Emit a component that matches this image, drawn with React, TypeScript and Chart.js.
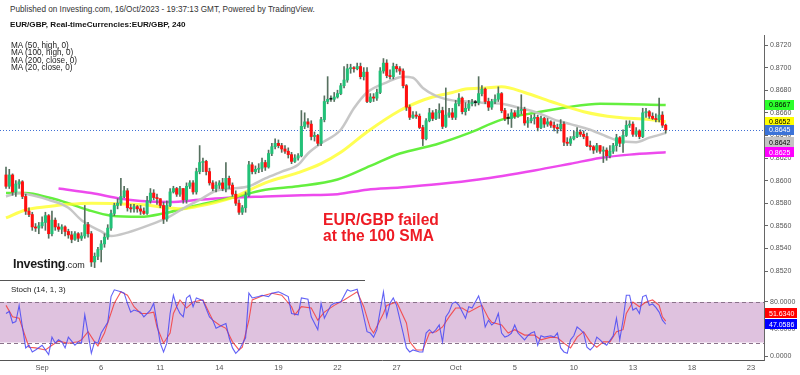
import React, { useEffect, useRef } from 'react';
import { Chart, registerables } from 'chart.js';

Chart.register(...registerables);

const FONT = '"Liberation Sans", Arial, Helvetica, sans-serif';

// ---- EUR/GBP 240-minute candles (index 0 = Aug 30 04:00 GMT) ----
const firstOpen = 0.8605;
const candleClose = [
  0.8595, 0.8605, 0.8590, 0.8597, 0.8599, 0.8586, 0.8573, 0.8570, 0.8559, 0.8558,
  0.8560, 0.8563, 0.8569, 0.8553, 0.8565, 0.8559, 0.8557, 0.8559, 0.8555, 0.8552,
  0.8548, 0.8553, 0.8549, 0.8551, 0.8561, 0.8553, 0.8528, 0.8533, 0.8539, 0.8544,
  0.8550, 0.8558, 0.8571, 0.8578, 0.8580, 0.8586, 0.8591, 0.8576, 0.8575, 0.8577,
  0.8575, 0.8573, 0.8571, 0.8582, 0.8589, 0.8585, 0.8584, 0.8578, 0.8566, 0.8578,
  0.8590, 0.8593, 0.8588, 0.8593, 0.8583, 0.8595, 0.8598, 0.8590, 0.8608, 0.8616,
  0.8617, 0.8608, 0.8598, 0.8593, 0.8596, 0.8598, 0.8593, 0.8602, 0.8596, 0.8588,
  0.8580, 0.8572, 0.8576, 0.8587, 0.8614, 0.8608, 0.8610, 0.8611, 0.8616, 0.8612,
  0.8624, 0.8630, 0.8633, 0.8631, 0.8628, 0.8626, 0.8623, 0.8617, 0.8620, 0.8622,
  0.8648, 0.8652, 0.8650, 0.8639, 0.8640, 0.8633, 0.8654, 0.8670, 0.8672, 0.8672,
  0.8674, 0.8677, 0.8684, 0.8689, 0.8699, 0.8700, 0.8699, 0.8701, 0.8692, 0.8696,
  0.8670, 0.8674, 0.8673, 0.8678, 0.8697, 0.8704, 0.8693, 0.8692, 0.8701, 0.8699,
  0.8697, 0.8684, 0.8665, 0.8656, 0.8658, 0.8657, 0.8647, 0.8637, 0.8653, 0.8660,
  0.8655, 0.8660, 0.8662, 0.8648, 0.8658, 0.8660, 0.8656, 0.8668, 0.8673, 0.8661,
  0.8664, 0.8668, 0.8669, 0.8669, 0.8677, 0.8681, 0.8670, 0.8665, 0.8670, 0.8672,
  0.8677, 0.8662, 0.8655, 0.8655, 0.8660, 0.8657, 0.8662, 0.8663, 0.8651, 0.8653,
  0.8655, 0.8656, 0.8647, 0.8655, 0.8650, 0.8652, 0.8649, 0.8647, 0.8646, 0.8650,
  0.8634, 0.8633, 0.8637, 0.8639, 0.8643, 0.8641, 0.8639, 0.8631, 0.8630, 0.8627,
  0.8631, 0.8626, 0.8627, 0.8622, 0.8626, 0.8631, 0.8638, 0.8633, 0.8640, 0.8649,
  0.8650, 0.8641, 0.8644, 0.8639, 0.8660, 0.8661, 0.8657, 0.8655, 0.8654, 0.8658,
  0.8649, 0.8645,
];
const candleHigh = [
  0.8612, 0.8610, 0.8606, 0.8600, 0.8601, 0.8600, 0.8588, 0.8576, 0.8572, 0.8562,
  0.8563, 0.8568, 0.8572, 0.8570, 0.8573, 0.8567, 0.8562, 0.8561, 0.8560, 0.8557,
  0.8555, 0.8555, 0.8554, 0.8554, 0.8578, 0.8563, 0.8555, 0.8536, 0.8541, 0.8547,
  0.8553, 0.8561, 0.8574, 0.8580, 0.8584, 0.8602, 0.8595, 0.8593, 0.8579, 0.8579,
  0.8578, 0.8578, 0.8576, 0.8586, 0.8593, 0.8592, 0.8588, 0.8584, 0.8581, 0.8582,
  0.8593, 0.8595, 0.8594, 0.8595, 0.8593, 0.8598, 0.8600, 0.8600, 0.8611, 0.8631,
  0.8620, 0.8618, 0.8611, 0.8600, 0.8599, 0.8600, 0.8602, 0.8616, 0.8604, 0.8598,
  0.8591, 0.8583, 0.8578, 0.8590, 0.8617, 0.8616, 0.8613, 0.8615, 0.8620, 0.8618,
  0.8627, 0.8633, 0.8637, 0.8636, 0.8633, 0.8631, 0.8629, 0.8625, 0.8623, 0.8624,
  0.8662, 0.8660, 0.8655, 0.8653, 0.8643, 0.8641, 0.8656, 0.8675, 0.8692, 0.8675,
  0.8678, 0.8680, 0.8686, 0.8701, 0.8703, 0.8703, 0.8701, 0.8704, 0.8704, 0.8700,
  0.8700, 0.8677, 0.8677, 0.8681, 0.8700, 0.8708, 0.8707, 0.8698, 0.8704, 0.8703,
  0.8701, 0.8699, 0.8685, 0.8667, 0.8661, 0.8661, 0.8659, 0.8649, 0.8655, 0.8664,
  0.8662, 0.8663, 0.8668, 0.8665, 0.8682, 0.8664, 0.8664, 0.8671, 0.8677, 0.8674,
  0.8669, 0.8671, 0.8672, 0.8671, 0.8692, 0.8684, 0.8682, 0.8673, 0.8672, 0.8676,
  0.8683, 0.8678, 0.8664, 0.8659, 0.8663, 0.8662, 0.8665, 0.8676, 0.8665, 0.8656,
  0.8658, 0.8659, 0.8658, 0.8657, 0.8656, 0.8655, 0.8653, 0.8652, 0.8650, 0.8654,
  0.8652, 0.8638, 0.8639, 0.8644, 0.8647, 0.8645, 0.8644, 0.8642, 0.8635, 0.8631,
  0.8633, 0.8631, 0.8630, 0.8629, 0.8631, 0.8633, 0.8641, 0.8639, 0.8645, 0.8653,
  0.8653, 0.8652, 0.8647, 0.8645, 0.8664, 0.8664, 0.8662, 0.8660, 0.8659, 0.8673,
  0.8661, 0.8650,
];
const candleLow = [
  0.8593, 0.8593, 0.8587, 0.8586, 0.8593, 0.8584, 0.8570, 0.8568, 0.8556, 0.8555,
  0.8553, 0.8558, 0.8556, 0.8549, 0.8551, 0.8556, 0.8555, 0.8553, 0.8551, 0.8549,
  0.8545, 0.8547, 0.8546, 0.8547, 0.8549, 0.8550, 0.8524, 0.8523, 0.8530, 0.8528,
  0.8541, 0.8548, 0.8556, 0.8569, 0.8575, 0.8578, 0.8585, 0.8573, 0.8572, 0.8572,
  0.8572, 0.8570, 0.8570, 0.8570, 0.8580, 0.8583, 0.8579, 0.8576, 0.8562, 0.8564,
  0.8577, 0.8589, 0.8586, 0.8586, 0.8580, 0.8580, 0.8593, 0.8588, 0.8588, 0.8606,
  0.8608, 0.8605, 0.8596, 0.8591, 0.8590, 0.8593, 0.8591, 0.8590, 0.8593, 0.8586,
  0.8578, 0.8570, 0.8570, 0.8572, 0.8586, 0.8606, 0.8606, 0.8607, 0.8608, 0.8609,
  0.8611, 0.8622, 0.8628, 0.8629, 0.8625, 0.8624, 0.8620, 0.8615, 0.8616, 0.8618,
  0.8621, 0.8646, 0.8647, 0.8636, 0.8635, 0.8631, 0.8631, 0.8652, 0.8668, 0.8670,
  0.8670, 0.8673, 0.8676, 0.8682, 0.8687, 0.8695, 0.8696, 0.8698, 0.8690, 0.8689,
  0.8669, 0.8669, 0.8670, 0.8671, 0.8677, 0.8695, 0.8691, 0.8690, 0.8690, 0.8696,
  0.8694, 0.8682, 0.8662, 0.8654, 0.8655, 0.8655, 0.8646, 0.8631, 0.8636, 0.8652,
  0.8653, 0.8654, 0.8655, 0.8646, 0.8647, 0.8656, 0.8654, 0.8654, 0.8666, 0.8659,
  0.8658, 0.8662, 0.8666, 0.8666, 0.8667, 0.8675, 0.8668, 0.8662, 0.8663, 0.8668,
  0.8670, 0.8660, 0.8653, 0.8650, 0.8647, 0.8655, 0.8656, 0.8659, 0.8649, 0.8647,
  0.8651, 0.8650, 0.8644, 0.8646, 0.8647, 0.8648, 0.8647, 0.8644, 0.8642, 0.8644,
  0.8631, 0.8631, 0.8631, 0.8636, 0.8638, 0.8639, 0.8637, 0.8630, 0.8627, 0.8624,
  0.8625, 0.8624, 0.8616, 0.8618, 0.8620, 0.8624, 0.8626, 0.8630, 0.8625, 0.8639,
  0.8647, 0.8639, 0.8639, 0.8637, 0.8638, 0.8656, 0.8655, 0.8654, 0.8652, 0.8652,
  0.8647, 0.8642,
];
// forex candles are gapless: each open is the previous close
const candleOpen = [firstOpen, ...candleClose.slice(0, -1)];

// ---- moving averages, [candle index, value] ----
const ma50High: [number, number][] = [
  [0, 0.8567], [6, 0.8574], [13, 0.8577], [19, 0.8579], [26, 0.8580], [39, 0.8579], [44, 0.8578],
  [49, 0.8576], [53, 0.8575], [58, 0.8577], [69, 0.8585], [79, 0.8598], [89, 0.8607], [96, 0.8615],
  [102, 0.8625], [110, 0.8643], [120, 0.8662], [126, 0.8670], [130, 0.8674], [136, 0.8678],
  [140, 0.8681], [146, 0.8682], [151, 0.8683], [158, 0.8678], [166, 0.8670], [176, 0.8661],
  [186, 0.8656], [196, 0.8654], [201, 0.8652],
];
const ma100High: [number, number][] = [
  [0, 0.8589], [6, 0.8589], [13, 0.8585], [19, 0.8580], [25, 0.8574], [32, 0.8569], [41, 0.8568],
  [48, 0.8571], [58, 0.8578], [69, 0.8585], [79, 0.8592], [89, 0.8595], [101, 0.8601], [111, 0.8613],
  [120, 0.8624], [131, 0.8632], [141, 0.8642], [151, 0.8654], [161, 0.8660], [171, 0.8665],
  [181, 0.8668], [201, 0.8667],
];
const ma200Close: [number, number][] = [
  [16, 0.8593], [26, 0.8589], [35, 0.8584], [41, 0.8582], [50, 0.8581], [59, 0.8583], [69, 0.8585],
  [79, 0.8586], [90, 0.8587], [101, 0.8588], [110, 0.8592], [120, 0.8594], [132, 0.8597],
  [144, 0.8601], [161, 0.8609], [172, 0.8615], [181, 0.8620], [190, 0.8623], [201, 0.8625],
];
const ma20Close: [number, number][] = [
  [0, 0.8586], [4, 0.8589], [8, 0.8587], [13, 0.8583], [19, 0.8576], [23, 0.8565], [29, 0.8555],
  [32, 0.8551], [37, 0.8554], [44, 0.8561], [49, 0.8567], [55, 0.8577], [59, 0.8583], [64, 0.8591],
  [69, 0.8593], [74, 0.8595], [79, 0.8602], [84, 0.8608], [89, 0.8614], [92, 0.8624], [96, 0.8633],
  [102, 0.8645], [106, 0.8664], [110, 0.8678], [116, 0.8687], [121, 0.8692], [124, 0.8691],
  [127, 0.8682], [131, 0.8675], [136, 0.8671], [141, 0.8670], [145, 0.8669], [151, 0.8668],
  [157, 0.8664], [162, 0.8660], [167, 0.8654], [172, 0.8650], [178, 0.8645], [183, 0.8639],
  [187, 0.8635], [192, 0.8634], [196, 0.8638], [201, 0.8642],
];

// ---- Stochastic (14, 1, 3): [candle index, value] ----
const stochK: [number, number][] = [
  [0, 63], [1, 66], [2, 49], [3, 51], [4, 75], [5, 43], [6, 12], [7, 16], [8, 6], [9, 9], [11, 16],
  [12, 9], [13, 2], [14, 28], [15, 19], [16, 24], [17, 21], [18, 12], [19, 28], [21, 16], [22, 21],
  [23, 19], [24, 61], [25, 34], [26, 4], [27, 21], [28, 19], [29, 34], [31, 50], [32, 88], [33, 98],
  [35, 95], [36, 93], [37, 78], [38, 65], [39, 68], [41, 65], [42, 58], [44, 68], [45, 78], [46, 49],
  [47, 19], [48, 6], [49, 19], [50, 63], [51, 90], [52, 73], [53, 63], [54, 58], [55, 86], [56, 90],
  [57, 73], [58, 86], [59, 84], [60, 82], [62, 58], [63, 53], [64, 41], [66, 46], [67, 48], [68, 27],
  [69, 12], [70, 4], [71, 9], [73, 27], [74, 93], [75, 86], [77, 88], [78, 90], [80, 88], [81, 93],
  [83, 95], [84, 93], [86, 88], [87, 63], [89, 61], [90, 86], [92, 84], [93, 58], [95, 39], [96, 78],
  [97, 56], [99, 75], [100, 78], [102, 80], [104, 98], [105, 96], [107, 99], [108, 80], [110, 36],
  [111, 34], [112, 28], [113, 39], [115, 95], [116, 58], [117, 78], [118, 86], [119, 75], [121, 34],
  [122, 12], [123, 6], [124, 9], [126, 6], [127, 6], [128, 34], [129, 39], [130, 34], [131, 39],
  [132, 46], [133, 21], [134, 58], [135, 65], [136, 78], [137, 80], [138, 75], [140, 56], [141, 73],
  [142, 71], [144, 89], [145, 73], [146, 43], [147, 53], [148, 46], [149, 50], [150, 63], [151, 34],
  [152, 28], [153, 30], [154, 34], [155, 46], [156, 34], [158, 24], [159, 30], [160, 34], [161, 36],
  [162, 16], [163, 30], [164, 28], [166, 30], [167, 28], [168, 34], [169, 12], [170, 6], [171, 4],
  [172, 24], [173, 30], [174, 43], [175, 39], [176, 34], [177, 13], [178, 9], [179, 14], [180, 28],
  [181, 24], [182, 19], [183, 16], [185, 30], [186, 56], [187, 24], [188, 53], [189, 90], [190, 90],
  [191, 68], [192, 71], [193, 63], [194, 88], [195, 90], [196, 75], [197, 77], [198, 72], [199, 65],
  [200, 53], [201, 47.0586],
];
const stochD: [number, number][] = [
  [0, 75], [2, 58], [4, 56], [6, 27], [7, 13], [9, 12], [12, 9], [14, 16], [16, 22], [19, 19],
  [22, 21], [23, 24], [25, 36], [27, 21], [28, 15], [30, 34], [31, 49], [33, 78], [35, 95], [37, 90],
  [39, 73], [41, 63], [43, 63], [45, 65], [46, 43], [48, 19], [50, 34], [51, 63], [53, 83], [55, 71],
  [57, 80], [60, 83], [61, 73], [63, 53], [65, 46], [67, 41], [69, 21], [71, 9], [72, 13], [74, 53],
  [75, 83], [78, 89], [81, 93], [84, 90], [87, 73], [88, 61], [90, 73], [93, 71], [95, 53], [97, 65],
  [100, 75], [103, 83], [107, 95], [109, 73], [111, 41], [112, 34], [115, 63], [116, 75], [119, 80],
  [122, 49], [123, 21], [125, 9], [127, 9], [129, 34], [131, 36], [133, 43], [135, 58], [137, 71],
  [139, 71], [141, 65], [144, 73], [145, 75], [147, 56], [148, 50], [151, 46], [153, 34], [155, 39],
  [158, 31], [161, 31], [163, 24], [166, 28], [168, 27], [170, 19], [172, 12], [174, 28], [176, 36],
  [178, 21], [180, 13], [182, 21], [184, 21], [186, 36], [188, 39], [189, 63], [191, 80], [193, 73],
  [195, 80], [197, 83], [199, 75], [200, 58], [201, 51.634],
];

// ---- axes ----
const priceTicks = [0.852, 0.854, 0.856, 0.858, 0.86, 0.862, 0.864, 0.866, 0.868, 0.87, 0.872];
const stochTicks = [0, 40, 80];
const STOCH_UPPER = 80;
const STOCH_LOWER = 20;
const xTickCandle = [11, 29, 47, 65, 83, 101, 119, 137, 155, 173, 191, 209, 227];
const xTickLabel = ['Sep', '6', '11', '14', '19', '22', '27', 'Oct', '5', '10', '13', '18', '23'];
const X_MIN = -1.83;
const X_MAX = 230.95;
const PRICE_MIN = 0.85094;
const PRICE_MAX = 0.872885;
const STOCH_MIN = -5.9;
const STOCH_MAX = 108.1;

// ---- colours ----
const UP = '#22c178';
const DOWN = '#ff0f0f';
const DOJI = '#111111';
const WICK = '#56705f';

const last = <T,>(a: T[]): T => a[a.length - 1];
const toXY = (pts: [number, number][]) => pts.map(([x, y]) => ({ x, y }));

function candleColor(i: number) {
  const o = candleOpen[i];
  const c = candleClose[i];
  if (c > o) return UP;
  if (c < o) return DOWN;
  return DOJI;
}

function drawBadges(chart: any, badges: any[], digits: number, w: number) {
  const { ctx, chartArea, scales } = chart;
  ctx.save();
  ctx.font = `7px ${FONT}`;
  ctx.textBaseline = 'middle';
  ctx.textAlign = 'left';
  for (const b of badges) {
    const y = scales.y.getPixelForValue(b.value) + (b.nudge || 0);
    const x = chartArea.right + 1;
    ctx.fillStyle = b.bg;
    ctx.fillRect(x, Math.round(y - 5), w, 10);
    ctx.fillStyle = b.fg;
    ctx.fillText(b.value.toFixed(digits), x + 4, y + 0.5);
  }
  ctx.restore();
}

const mainPlugin = {
  id: 'mainOverlay',
  beforeDatasetsDraw(chart: any) {
    const { ctx, chartArea, scales } = chart;
    const y = Math.round(scales.y.getPixelForValue(last(candleClose))) + 0.5;
    ctx.save();
    ctx.strokeStyle = '#3f6fd4';
    ctx.lineWidth = 1;
    ctx.setLineDash([1, 2]);
    ctx.beginPath();
    ctx.moveTo(chartArea.left, y);
    ctx.lineTo(chartArea.right, y);
    ctx.stroke();
    ctx.restore();
  },
  afterDraw(chart: any) {
    drawBadges(
      chart,
      [
        { value: last(ma100High)[1], bg: '#2cff2c', fg: '#000' },
        { value: last(ma50High)[1], bg: '#ffff00', fg: '#000' },
        { value: last(candleClose), bg: '#3c74d8', fg: '#fff' },
        { value: last(ma20Close)[1], bg: '#c4c4c4', fg: '#000', nudge: 9 },
        { value: last(ma200Close)[1], bg: '#ff00ff', fg: '#fff' },
      ],
      4,
      29,
    );
  },
};

const stochPlugin = {
  id: 'stochOverlay',
  beforeDatasetsDraw(chart: any) {
    const { ctx, chartArea: a, scales } = chart;
    const yTop = scales.y.getPixelForValue(STOCH_UPPER);
    const yBot = scales.y.getPixelForValue(STOCH_LOWER);
    ctx.save();
    ctx.fillStyle = '#dfc2df';
    ctx.fillRect(a.left, yTop, a.right - a.left, yBot - yTop);
    ctx.strokeStyle = '#8a728a';
    ctx.lineWidth = 1;
    ctx.setLineDash([4, 3]);
    for (const y of [yTop, yBot]) {
      ctx.beginPath();
      ctx.moveTo(a.left, Math.round(y) + 0.5);
      ctx.lineTo(a.right, Math.round(y) + 0.5);
      ctx.stroke();
    }
    ctx.restore();
  },
  afterDraw(chart: any) {
    drawBadges(
      chart,
      [
        { value: last(stochD)[1], bg: '#ff0000', fg: '#fff', nudge: -8 },
        { value: last(stochK)[1], bg: '#0000ff', fg: '#fff' },
      ],
      4,
      32,
    );
  },
};

const maLine = (pts: [number, number][], color: string, width: number, order: number) => ({
  type: 'line',
  data: toXY(pts),
  borderColor: color,
  borderWidth: width,
  pointRadius: 0,
  cubicInterpolationMode: 'monotone',
  fill: false,
  order,
});

function mainConfig(): any {
  const idx = candleClose.map((_, i) => i);
  return {
    type: 'bar',
    data: {
      datasets: [
        maLine(ma200Close, 'rgba(236,64,236,0.95)', 2.5, 6),
        maLine(ma100High, 'rgba(92,238,52,0.95)', 2.5, 5),
        maLine(ma50High, 'rgba(255,255,40,0.8)', 3, 4),
        maLine(ma20Close, 'rgba(196,196,196,0.95)', 2.5, 3),
        {
          type: 'bar',
          data: idx.map((i) => ({ x: i, y: [candleLow[i], candleHigh[i]] })),
          backgroundColor: WICK,
          barThickness: 1,
          grouped: false,
          borderWidth: 0,
          order: 2,
        },
        {
          type: 'bar',
          data: idx.map((i) => ({ x: i, y: [candleOpen[i], candleClose[i]] })),
          backgroundColor: idx.map(candleColor),
          barThickness: 2.4,
          grouped: false,
          borderWidth: 0,
          minBarLength: 1,
          order: 1,
        },
      ],
    },
    options: {
      responsive: false,
      animation: false,
      devicePixelRatio: 1,
      layout: { padding: 0 },
      plugins: { legend: { display: false }, tooltip: { enabled: false } },
      scales: {
        x: { type: 'linear', display: false, min: X_MIN, max: X_MAX, offset: false },
        y: {
          type: 'linear',
          position: 'right',
          min: PRICE_MIN,
          max: PRICE_MAX,
          afterBuildTicks: (s: any) => {
            s.ticks = priceTicks.map((v) => ({ value: v }));
          },
          afterFit: (s: any) => {
            s.width = 36;
            s.paddingTop = 0;
            s.paddingBottom = 0;
          },
          ticks: {
            padding: 2,
            color: '#555',
            font: { family: FONT, size: 7 },
            callback: (v: any) => Number(v).toFixed(4),
          },
          grid: { drawOnChartArea: false, drawTicks: true, tickLength: 4, tickColor: '#666' },
          border: { display: true, color: '#666', width: 1 },
        },
      },
    },
    plugins: [mainPlugin],
  };
}

function stochConfig(): any {
  return {
    type: 'line',
    data: {
      datasets: [
        {
          data: toXY(stochK),
          borderColor: 'rgba(70,70,245,0.85)',
          borderWidth: 1.1,
          pointRadius: 0,
          tension: 0,
          order: 0,
        },
        {
          data: toXY(stochD),
          borderColor: 'rgba(245,60,60,0.85)',
          borderWidth: 1.1,
          pointRadius: 0,
          tension: 0,
          order: 1,
        },
      ],
    },
    options: {
      responsive: false,
      animation: false,
      devicePixelRatio: 1,
      layout: { padding: 0 },
      plugins: { legend: { display: false }, tooltip: { enabled: false } },
      scales: {
        x: {
          type: 'linear',
          min: X_MIN,
          max: X_MAX,
          offset: false,
          afterBuildTicks: (s: any) => {
            s.ticks = xTickCandle.map((v) => ({ value: v }));
          },
          afterFit: (s: any) => {
            s.height = 15;
            s.paddingLeft = 0;
            s.paddingRight = 0;
          },
          ticks: {
            padding: 3,
            color: '#555',
            maxRotation: 0,
            autoSkip: false,
            font: { family: FONT, size: 7.5 },
            callback: (v: any) => xTickLabel[xTickCandle.indexOf(Number(v))] ?? '',
          },
          grid: { display: false, drawTicks: false, tickLength: 0 },
          border: { display: true, color: '#555', width: 1 },
        },
        y: {
          type: 'linear',
          position: 'right',
          min: STOCH_MIN,
          max: STOCH_MAX,
          afterBuildTicks: (s: any) => {
            s.ticks = stochTicks.map((v) => ({ value: v }));
          },
          afterFit: (s: any) => {
            s.width = 36;
            s.paddingTop = 0;
            s.paddingBottom = 0;
          },
          ticks: {
            padding: 2,
            color: '#555',
            font: { family: FONT, size: 7 },
            callback: (v: any) => Number(v).toFixed(4),
          },
          grid: { drawOnChartArea: false, drawTicks: true, tickLength: 4, tickColor: '#666' },
          border: { display: true, color: '#666', width: 1 },
        },
      },
    },
    plugins: [stochPlugin],
  };
}

function Txt(props: {
  x: number;
  baseline: number;
  size: number;
  bold?: boolean;
  color?: string;
  children: React.ReactNode;
}) {
  const { x, baseline, size, bold, color, children } = props;
  return (
    <div
      style={{
        position: 'absolute',
        left: x,
        top: baseline - 0.8465 * size,
        fontSize: size,
        lineHeight: 1,
        fontWeight: bold ? 700 : 400,
        color: color || '#222',
        whiteSpace: 'pre',
        fontFamily: FONT,
      }}
    >
      {children}
    </div>
  );
}

const maLegend = ['MA (50, high, 0)', 'MA (100, high, 0)', 'MA (200, close, 0)', 'MA (20, close, 0)'];

export default function App() {
  const mainRef = useRef<HTMLCanvasElement>(null);
  const stochRef = useRef<HTMLCanvasElement>(null);

  useEffect(() => {
    const main = new Chart(mainRef.current as HTMLCanvasElement, mainConfig());
    const stoch = new Chart(stochRef.current as HTMLCanvasElement, stochConfig());
    return () => {
      main.destroy();
      stoch.destroy();
    };
  }, []);

  return (
    <div
      style={{
        position: 'absolute',
        left: 0,
        top: 0,
        width: 800,
        height: 375,
        background: '#fff',
        overflow: 'hidden',
        fontFamily: FONT,
      }}
    >
      <canvas
        ref={mainRef}
        width={800}
        height={248}
        style={{ position: 'absolute', left: 0, top: 35, width: 800, height: 248 }}
      />
      <canvas
        ref={stochRef}
        width={800}
        height={92}
        style={{ position: 'absolute', left: 0, top: 283, width: 800, height: 92 }}
      />
      <div style={{ position: 'absolute', left: 0, top: 280, width: 365, height: 1, background: '#555' }} />

      <Txt x={10} baseline={13.4} size={8.2} color="#333">
        Published on Investing.com, 16/Oct/2023 - 19:37:13 GMT, Powered by TradingView.
      </Txt>
      <Txt x={10} baseline={28.2} size={8.1} bold color="#111">
        EUR/GBP, Real-timeCurrencies:EUR/GBP, 240
      </Txt>
      {maLegend.map((t, i) => (
        <Txt key={t} x={11} baseline={48.7 + i * 7.5} size={8.2} color="#222">
          {t}
        </Txt>
      ))}
      <Txt x={11} baseline={293} size={8} color="#222">
        Stoch (14, 1, 3)
      </Txt>
      <Txt x={323} baseline={225.7} size={15.6} bold color="#ee1c25">
        EUR/GBP failed
      </Txt>
      <Txt x={323} baseline={241} size={15.6} bold color="#ee1c25">
        at the 100 SMA
      </Txt>
      <Txt x={13} baseline={268.5} size={12.5} bold color="#1a1a1a">
        <span style={{ letterSpacing: -0.3 }}>Investing</span>
        <span style={{ fontSize: 9, fontWeight: 400 }}>.com</span>
      </Txt>
    </div>
  );
}
